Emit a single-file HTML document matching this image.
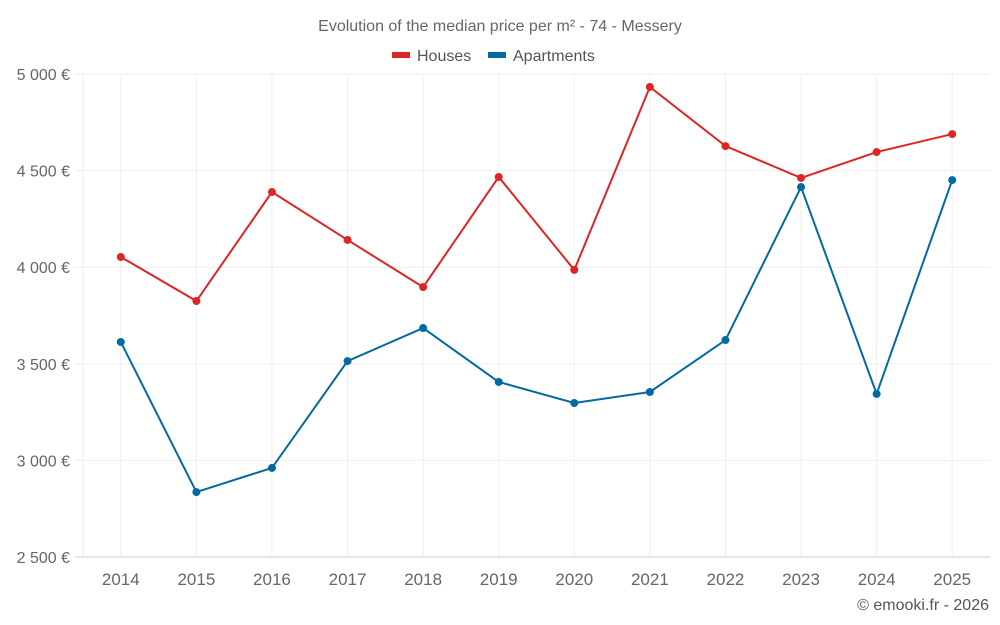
<!DOCTYPE html>
<html><head><meta charset="utf-8"><style>
html,body{margin:0;padding:0;background:#fff;}
svg{display:block;font-family:"Liberation Sans",sans-serif;}
</style></head><body>
<svg id="chart" width="1000" height="625">
<text x="500" y="31" text-anchor="middle" font-size="16" fill="#666">Evolution of the median price per m² - 74 - Messery</text>
<g>
<rect x="392" y="52" width="18" height="6" fill="#dc2626"/>
<text x="417" y="61" font-size="16" fill="#555">Houses</text>
<rect x="488" y="52" width="18" height="6" fill="#0369a1"/>
<text x="513" y="61" font-size="16" fill="#555">Apartments</text>
</g>
<g id="grid"></g><g id="series"></g>
<text x="989" y="610" text-anchor="end" font-size="16" fill="#555">© emooki.fr - 2026</text>
</svg>
<script>
const years = [2014,2015,2016,2017,2018,2019,2020,2021,2022,2023,2024,2025];
const houses = [4053,3825,4389,4141,3897,4467,3986,4933,4627,4462,4596,4689];
const apartments = [3613,2836,2961,3514,3685,3406,3297,3354,3623,4415,3344,4451];
const yTicks = [2500,3000,3500,4000,4500,5000];
const yTickLabels = ["2 500 €","3 000 €","3 500 €","4 000 €","4 500 €","5 000 €"];

const NS="http://www.w3.org/2000/svg";
const plotLeft=83,plotRight=990,plotTop=74,plotBottom=557,yMin=2500,yMax=5000;
const step=(plotRight-plotLeft)/years.length;
function xs(i){return plotLeft+step*(i+0.5);}
function ys(v){return plotBottom-(v-yMin)/(yMax-yMin)*(plotBottom-plotTop);}
function mk(tag,attrs,parent){const e=document.createElementNS(NS,tag);for(const k in attrs)e.setAttribute(k,attrs[k]);parent.appendChild(e);return e;}
const grid=document.getElementById('grid'),series=document.getElementById('series');
yTicks.forEach((t,i)=>{
  const l=mk('line',{x1:plotLeft-8,x2:plotRight,y1:ys(t),y2:ys(t),stroke:i===0?'#ccc':'#eee','stroke-width':1},grid);
  
  
  const tx=mk('text',{x:70,y:ys(t)+6,'text-anchor':'end','font-size':16,fill:'#666'},grid);
  tx.textContent=yTickLabels[i];
  
  
});
const edge=mk('line',{x1:plotLeft,x2:plotLeft,y1:plotTop,y2:plotBottom,stroke:'#eee','stroke-width':1},grid);


years.forEach((y,i)=>{
  const l=mk('line',{x1:xs(i),x2:xs(i),y1:plotTop,y2:plotBottom,stroke:'#eee','stroke-width':1},grid);
  
  
  const tx=mk('text',{x:xs(i),y:585,'text-anchor':'middle','font-size':17,fill:'#666'},grid);
  tx.textContent=y;
  
  
});
function draw(vals,color,name){
  const p=mk('polyline',{points:vals.map((v,i)=>xs(i)+','+ys(v)).join(' '),fill:'none',stroke:color,'stroke-width':2},series);
  
  
  vals.forEach((v,i)=>{
    const c=mk('circle',{cx:xs(i),cy:ys(v),r:4,fill:color},series);
    
    
  });
}
draw(houses,'#dc2626','houses');
draw(apartments,'#0369a1','apartments');
</script>
</body></html>
